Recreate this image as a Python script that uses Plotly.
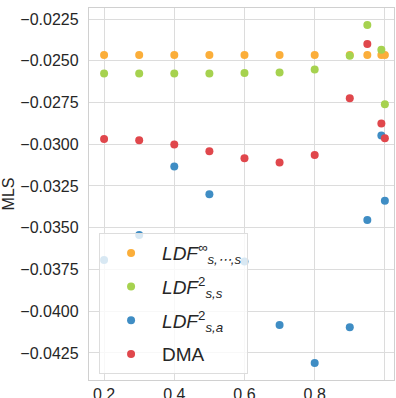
import plotly.graph_objects as go

x_vals = [0.2, 0.3, 0.4, 0.5, 0.6, 0.7, 0.8, 0.9, 0.95, 0.99, 1.0]

ldf_inf = [-0.02465, -0.02465, -0.02465, -0.02465, -0.02465, -0.02465, -0.02465, -0.02465, -0.02465, -0.02465, -0.02465]
ldf2_ss = [-0.02576, -0.02576, -0.02577, -0.02576, -0.02574, -0.02570, -0.02552, -0.02470, -0.02286, -0.02434, -0.02760]
ldf2_sa = [-0.03694, -0.03544, -0.03134, -0.03300, -0.03702, -0.04082, -0.04310, -0.04096, -0.03454, -0.02948, -0.03338]
dma = [-0.02968, -0.02976, -0.03002, -0.03042, -0.03084, -0.03110, -0.03064, -0.02724, -0.02400, -0.02876, -0.02964]

names = [
    "<i>LDF</i><sup>∞</sup><sub><i>s,⋯,s</i></sub>",
    "<i>LDF</i><sup>2</sup><sub><i>s,s</i></sub>",
    "<i>LDF</i><sup>2</sup><sub><i>s,a</i></sub>",
    "DMA",
]
colors = ["#FBAE3A", "#A6D24F", "#3F8DC4", "#E0474C"]
series = [ldf_inf, ldf2_ss, ldf2_sa, dma]

y_ticks = [-0.0425, -0.0400, -0.0375, -0.0350, -0.0325, -0.0300, -0.0275, -0.0250, -0.0225]
x_ticks = [0.2, 0.4, 0.6, 0.8, 1.0]

fig = go.Figure()
for i, (nm, col, ys) in enumerate(zip(names, colors, series)):
    fig.add_trace(go.Scatter(
        x=x_vals, y=ys, mode="markers", name=nm, legendgroup=f"g{i}",
        marker=dict(color=col, size=8, line=dict(width=0)),
    ))

font = "Liberation Sans, Arial, sans-serif"
fig.update_layout(
    width=396, height=398,
    margin=dict(l=89, r=2, t=8, b=18, autoexpand=False),
    paper_bgcolor="white", plot_bgcolor="white",
    font=dict(family=font, size=16, color="#262626"),
    showlegend=True,
    legend=dict(
        x=0.033, y=0.395, xanchor="left", yanchor="top",
        bgcolor="rgba(255,255,255,0.8)", bordercolor="#dddddd", borderwidth=1,
        font=dict(size=19, color="#262626"), tracegroupgap=6,
        itemwidth=52,
    ),
    xaxis=dict(
        range=[0.157, 1.026], tickvals=x_ticks, ticktext=["0.2", "0.4", "0.6", "0.8", "1.0"],
        showgrid=True, gridcolor="#dcdcdc", gridwidth=1.3,
        showline=True, linecolor="#d0d0d0", linewidth=1.3, mirror=True,
        zeroline=False, ticks="", tickfont=dict(size=16), automargin=False,
    ),
    yaxis=dict(
        range=[-0.04412, -0.02184], tickvals=y_ticks, tickformat=".4f",
        showgrid=True, gridcolor="#dcdcdc", gridwidth=1.3,
        showline=True, linecolor="#d0d0d0", linewidth=1.3, mirror=True,
        zeroline=False, ticks="outside", ticklen=6, tickcolor="rgba(0,0,0,0)",
        tickfont=dict(size=16), automargin=False,
        title=dict(text="MLS", font=dict(size=16), standoff=2),
    ),
)

fig.write_html(
    "out.html",
    config={"displayModeBar": False},
    post_script="document.body.style.margin='0';document.body.style.overflow='hidden';",
)
